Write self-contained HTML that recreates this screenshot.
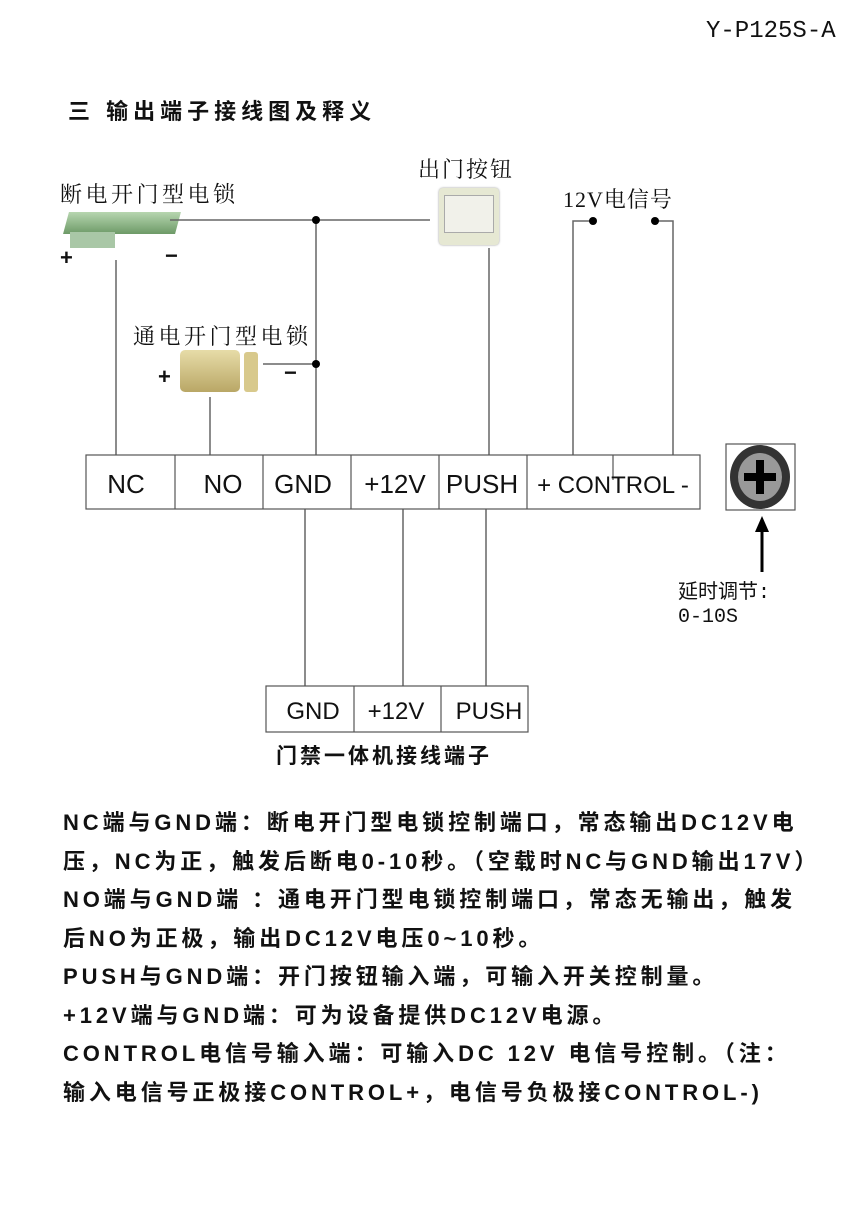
<!DOCTYPE html>
<html><head><meta charset="utf-8"><style>
body{margin:0;width:865px;height:1228px;background:#fff;position:relative;overflow:hidden;font-family:"Liberation Sans","Noto Sans CJK SC",sans-serif;color:#111}
.a{position:absolute;white-space:nowrap}
.serif{font-family:"Liberation Serif","Noto Serif CJK SC",serif}
.p{font-size:22px;font-weight:bold;letter-spacing:3.9px;line-height:38.5px}
</style></head><body>
<div class="a" style="left:706px;top:18px;font-family:'Liberation Mono',monospace;font-size:24px">Y-P125S-A</div>
<div class="a" style="left:68px;top:94px;font-size:22px;font-weight:bold;letter-spacing:5px">三 输出端子接线图及释义</div>
<div class="a serif" style="left:60px;top:178px;font-size:22px;letter-spacing:3.5px">断电开门型电锁</div>
<div class="a serif" style="left:418px;top:153px;font-size:22px;letter-spacing:2px">出门按钮</div>
<div class="a serif" style="left:563px;top:183px;font-size:22px;letter-spacing:1px">12V电信号</div>
<div class="a serif" style="left:133px;top:320px;font-size:22px;letter-spacing:3.5px">通电开门型电锁</div>
<!-- lock 1 -->
<div class="a" style="left:66px;top:212px;width:112px;height:22px;background:linear-gradient(#b7d6b0,#6d9a67);transform:skewX(-15deg)"></div>
<div class="a" style="left:70px;top:232px;width:45px;height:16px;background:#a9c7a6"></div>
<div class="a" style="left:60px;top:245px;font-size:22px;font-weight:bold">+</div>
<div class="a" style="left:165px;top:243px;font-size:22px;font-weight:bold">−</div>
<!-- button -->
<div class="a" style="left:439px;top:188px;width:60px;height:57px;background:#e6e8d3;border-radius:4px;box-shadow:0 0 2px #999"></div>
<div class="a" style="left:444px;top:195px;width:48px;height:36px;background:#f1f1ea;border:1px solid #aaa"></div>
<!-- lock 2 -->
<div class="a" style="left:180px;top:350px;width:60px;height:42px;background:linear-gradient(#e7dca8,#b9a766);border-radius:5px"></div>
<div class="a" style="left:244px;top:352px;width:14px;height:40px;background:#d8c98c;border-radius:3px"></div>
<div class="a" style="left:158px;top:364px;font-size:22px;font-weight:bold">+</div>
<div class="a" style="left:284px;top:360px;font-size:22px;font-weight:bold">−</div>
<svg class="a" style="left:0;top:0" width="865" height="800">
<g stroke="#666" stroke-width="1.5" fill="none">
<line x1="170" y1="220" x2="430" y2="220"/>
<line x1="316" y1="220" x2="316" y2="455"/>
<line x1="263" y1="364" x2="316" y2="364"/>
<line x1="116" y1="260" x2="116" y2="455"/>
<line x1="210" y1="397" x2="210" y2="455"/>
<line x1="489" y1="248" x2="489" y2="455"/>
<polyline points="593,221 573,221 573,455"/>
<polyline points="655,221 673,221 673,455"/>
<line x1="305" y1="509" x2="305" y2="686"/>
<line x1="403" y1="509" x2="403" y2="686"/>
<line x1="486" y1="509" x2="486" y2="686"/>
</g>
<g fill="#000"><circle cx="316" cy="220" r="4"/><circle cx="316" cy="364" r="4"/><circle cx="593" cy="221" r="4"/><circle cx="655" cy="221" r="4"/></g>
<g stroke="#555" stroke-width="1.2" fill="none">
<rect x="86" y="455" width="614" height="54"/>
<line x1="175" y1="455" x2="175" y2="509"/><line x1="263" y1="455" x2="263" y2="509"/>
<line x1="351" y1="455" x2="351" y2="509"/><line x1="439" y1="455" x2="439" y2="509"/>
<line x1="527" y1="455" x2="527" y2="509"/><line x1="613" y1="455" x2="613" y2="480"/>
<rect x="266" y="686" width="262" height="46"/>
<line x1="354" y1="686" x2="354" y2="732"/><line x1="441" y1="686" x2="441" y2="732"/>
<rect x="726" y="444" width="69" height="66"/>
</g>
<ellipse cx="760" cy="477" rx="30" ry="32" fill="#333"/>
<ellipse cx="760" cy="477" rx="22" ry="24" fill="#999"/>
<rect x="744" y="473" width="32" height="8" fill="#000"/><rect x="756" y="460" width="8" height="34" fill="#000"/>
<line x1="762" y1="530" x2="762" y2="572" stroke="#000" stroke-width="3"/>
<polygon points="755,532 769,532 762,516" fill="#000"/>
<g font-family="Liberation Sans,sans-serif" font-size="26" fill="#111" text-anchor="middle">
<text x="126" y="493">NC</text><text x="223" y="493">NO</text><text x="303" y="493">GND</text>
<text x="395" y="493">+12V</text><text x="482" y="493">PUSH</text>
<text x="613" y="493" font-size="24">+ CONTROL -</text>
<text x="313" y="719" font-size="24">GND</text><text x="396" y="719" font-size="24">+12V</text><text x="489" y="719" font-size="24">PUSH</text>
</g>
</svg>
<div class="a" style="left:678px;top:582px;font-family:'Liberation Mono','Noto Sans CJK SC',monospace;font-size:20px;line-height:24px">延时调节:<br>0-10S</div>
<div class="a" style="left:276px;top:740px;font-size:21px;font-weight:bold;letter-spacing:3px">门禁一体机接线端子</div>
<div class="a p" style="left:63px;top:804px">NC端与GND端：断电开门型电锁控制端口，常态输出DC12V电<br>压，NC为正，触发后断电0-10秒。（空载时NC与GND输出17V）<br>NO端与GND端 ：通电开门型电锁控制端口，常态无输出，触发<br>后NO为正极，输出DC12V电压0~10秒。<br>PUSH与GND端：开门按钮输入端，可输入开关控制量。<br>+12V端与GND端：可为设备提供DC12V电源。<br>CONTROL电信号输入端：可输入DC 12V 电信号控制。（注：<br>输入电信号正极接CONTROL+，电信号负极接CONTROL-)</div>
</body></html>
